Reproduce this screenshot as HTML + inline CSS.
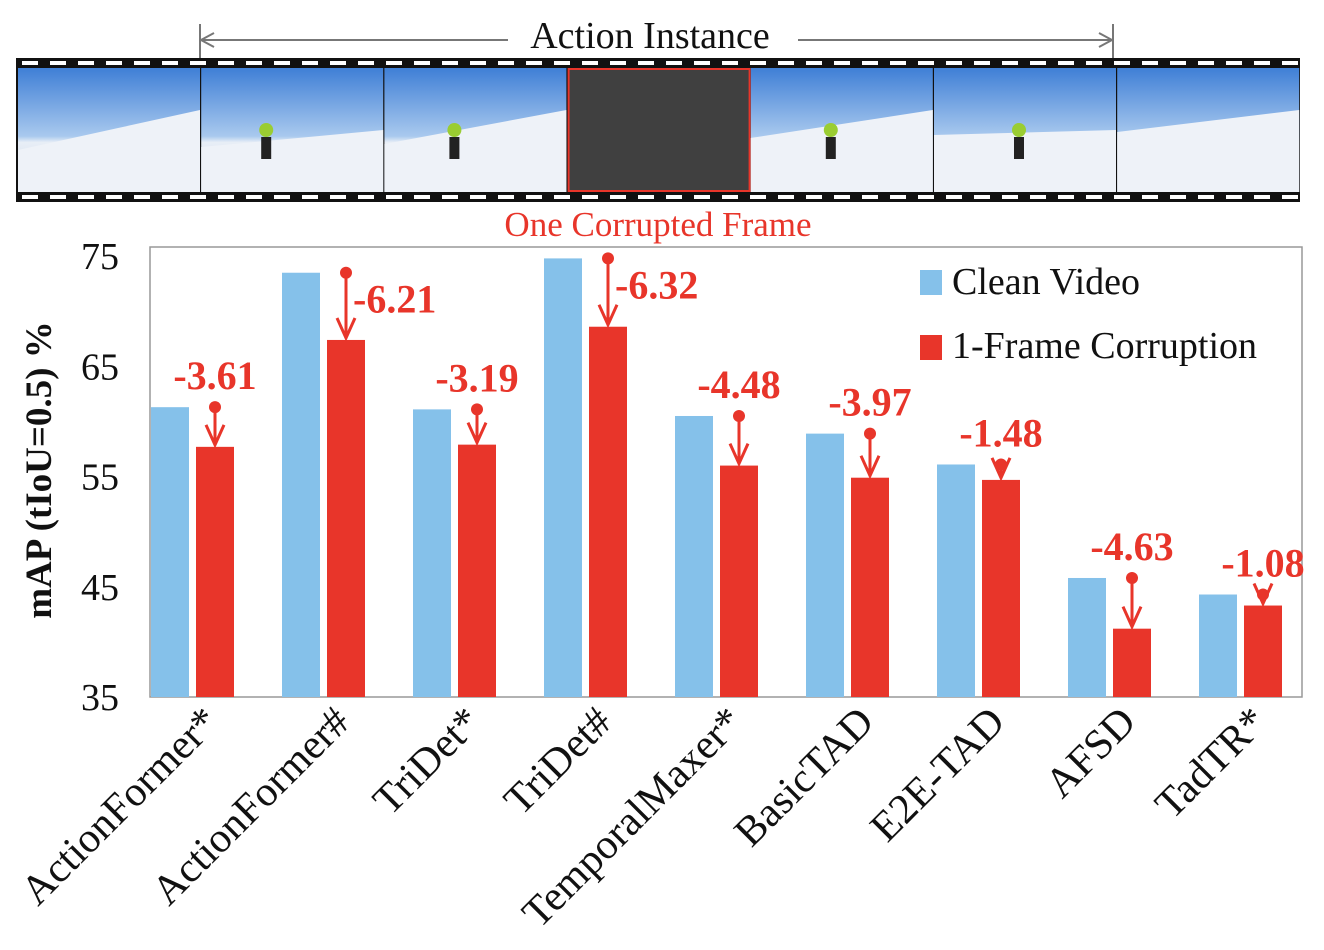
<!DOCTYPE html>
<html><head><meta charset="utf-8"><style>
body{margin:0;background:#fff;}
svg{display:block;font-family:"Liberation Serif",serif;}
</style></head><body>
<svg id="c" width="1324" height="950" viewBox="0 0 1324 950">
<defs>
<linearGradient id="sky" x1="0" y1="0" x2="0" y2="1"><stop offset="0" stop-color="#3f7fd6"/><stop offset="0.55" stop-color="#a9c9ee"/><stop offset="0.6" stop-color="#e8eef6"/><stop offset="1" stop-color="#c9d6ea"/></linearGradient>
</defs>
<g id="film"></g>
<g id="plot"></g>
</svg>
<script>
const NS='http://www.w3.org/2000/svg';
const categories=['ActionFormer*','ActionFormer#','TriDet*','TriDet#','TemporalMaxer*','BasicTAD','E2E-TAD','AFSD','TadTR*'];
const cleanValues=[61.3,73.5,61.1,74.8,60.5,58.9,56.1,45.8,44.3];
const corruptValues=[57.7,67.4,57.9,68.6,56.0,54.9,54.7,41.2,43.3];
const deltaLabels=['-3.61','-6.21','-3.19','-6.32','-4.48','-3.97','-1.48','-4.63','-1.08'];
const yTicks=[35,45,55,65,75];
const BLUE='#85c1ea',RED='#e8352a';
function mk(tag,attrs,parent){const e=document.createElementNS(NS,tag);for(const k in attrs)e.setAttribute(k,attrs[k]);parent.appendChild(e);return e;}
const svg=document.getElementById('c');
const film=document.getElementById('film');
const plot=document.getElementById('plot');
let r=mk('rect',{x:16,y:58,width:1284,height:144,fill:'#111'},film);

for(let x=22;x<1295;x+=28){mk('rect',{x:x,y:61,width:16,height:4,fill:'#fff'},film);mk('rect',{x:x,y:195,width:16,height:4,fill:'#fff'},film);}
for(let i=0;i<7;i++){
  const fx=18+i*183.2;
  const g=mk('g',{},film);
  
  
  if(i===3){mk('rect',{x:fx+1,y:69,width:181,height:122,fill:'#404040',stroke:RED,'stroke-width':2},g);continue;}
  mk('rect',{x:fx,y:68,width:182,height:124,fill:'url(#sky)'},g);
  mk('polygon',{points:`${fx},${150-i*3} ${fx+182},${110+ (i%2)*20} ${fx+182},192 ${fx},192`,fill:'#eef2f8'},g);
  if(i>0&&i<6){mk('circle',{cx:fx+60+i*5,cy:130,r:7,fill:'#9acd32'},g);mk('rect',{x:fx+55+i*5,y:137,width:10,height:22,fill:'#222'},g);}
}
let t=mk('text',{x:650,y:48,'font-size':38,'text-anchor':'middle',fill:'#111'},svg);t.textContent='Action Instance';

mk('line',{x1:200,y1:40,x2:508,y2:40,stroke:'#777','stroke-width':2},svg);
mk('line',{x1:798,y1:40,x2:1113,y2:40,stroke:'#777','stroke-width':2},svg);
mk('polyline',{points:'214,33 201,40 214,47',fill:'none',stroke:'#777','stroke-width':2},svg);
mk('polyline',{points:'1099,33 1112,40 1099,47',fill:'none',stroke:'#777','stroke-width':2},svg);
mk('line',{x1:200,y1:24,x2:200,y2:58,stroke:'#777','stroke-width':2},svg);
mk('line',{x1:1113,y1:24,x2:1113,y2:58,stroke:'#777','stroke-width':2},svg);
t=mk('text',{x:658,y:236,'font-size':35,'text-anchor':'middle',fill:RED},svg);t.textContent='One Corrupted Frame';

const X0=150,X1=1302,Ytop=247,Ybot=697;
const y=v=>697-(v-35)*11.02;
const gx=i=>151+i*131;
r=mk('rect',{x:X0,y:Ytop,width:X1-X0,height:Ybot-Ytop,fill:'none',stroke:'#999','stroke-width':1.5},plot);

yTicks.forEach(v=>{const e=mk('text',{x:119,y:y(v)+13,'font-size':38,'text-anchor':'end',fill:'#111'},plot);e.textContent=v;
});
t=mk('text',{x:0,y:0,'font-size':37,'font-weight':'bold','text-anchor':'middle',transform:'translate(51,470) rotate(-90)',fill:'#111'},plot);
t.textContent='mAP (tIoU=0.5) %';
categories.forEach((c,i)=>{
  const bx=gx(i);
  let b=mk('rect',{x:bx,y:y(cleanValues[i]),width:38,height:Ybot-y(cleanValues[i]),fill:BLUE},plot);
  
  b=mk('rect',{x:bx+45,y:y(corruptValues[i]),width:38,height:Ybot-y(corruptValues[i]),fill:RED},plot);
  
  const cx=bx+64,y1=y(cleanValues[i]),y2=y(corruptValues[i]);
  const a=mk('g',{},plot);
  mk('circle',{cx:cx,cy:y1,r:6,fill:RED},a);
  mk('line',{x1:cx,y1:y1,x2:cx,y2:y2-3,stroke:RED,'stroke-width':3},a);
  mk('polyline',{points:`${cx-9},${y2-22} ${cx},${y2-2} ${cx+9},${y2-22}`,fill:'none',stroke:RED,'stroke-width':3},a);
  let lt;
  const drop=cleanValues[i]-corruptValues[i];
  if(drop>5.5){lt=mk('text',{x:cx+7,y:y1+40,'font-size':40,'font-weight':'bold','text-anchor':'start',fill:RED},plot);}
  else{lt=mk('text',{x:cx,y:y1-18,'font-size':40,'font-weight':'bold','text-anchor':'middle',fill:RED},plot);}
  lt.textContent=deltaLabels[i];
  const xl=mk('text',{x:0,y:0,'font-size':42,'text-anchor':'end',fill:'#111',transform:`translate(${bx+70},${724}) rotate(-45)`},plot);
  xl.textContent=c;
});
const lg=mk('g',{},plot);
mk('rect',{x:920,y:270,width:22,height:25,fill:BLUE},lg);
t=mk('text',{x:952,y:294,'font-size':38,fill:'#111'},lg);t.textContent='Clean Video';
mk('rect',{x:920,y:335,width:22,height:25,fill:RED},lg);
t=mk('text',{x:952,y:358,'font-size':38,fill:'#111'},lg);t.textContent='1-Frame Corruption';
</script>
</body></html>
